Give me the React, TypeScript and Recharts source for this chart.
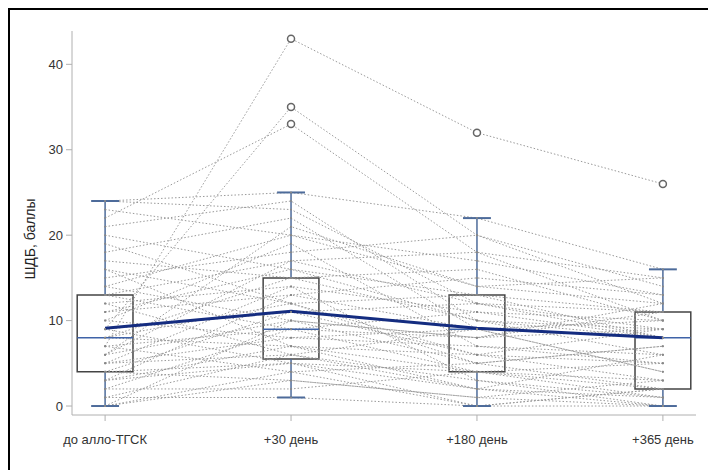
import {
  ComposedChart,
  Line,
  Scatter,
  XAxis,
  YAxis,
  ReferenceArea,
  ReferenceLine,
} from 'recharts';

const timepoints = ['до алло-ТГСК', '+30 день', '+180 день', '+365 день'];

// individual patient trajectories, score at each timepoint
const patients = [
  [7, 43, 32, 26],
  [9, 35, 20, 12],
  [22, 33, 18, 10],
  [24, 25, 22, 16],
  [24, 23, 12, 8],
  [23, 20, 14, 15],
  [21, 24, 10, 6],
  [20, 16, 13, 11],
  [18, 22, 9, 4],
  [17, 15, 16, 10],
  [16, 12, 5, 2],
  [15, 18, 20, 14],
  [14, 10, 8, 9],
  [13, 17, 12, 11],
  [13, 9, 4, 1],
  [12, 14, 11, 8],
  [12, 6, 3, 0],
  [11, 13, 15, 13],
  [10, 19, 7, 5],
  [10, 8, 9, 10],
  [9, 11, 6, 3],
  [9, 5, 4, 2],
  [8, 15, 10, 9],
  [8, 7, 2, 0],
  [8, 12, 13, 8],
  [7, 9, 8, 11],
  [7, 4, 0, 2],
  [6, 10, 5, 7],
  [6, 21, 14, 12],
  [5, 6, 9, 8],
  [5, 14, 3, 1],
  [5, 8, 7, 6],
  [4, 3, 1, 0],
  [4, 11, 12, 9],
  [4, 5, 0, 2],
  [3, 7, 6, 5],
  [3, 13, 9, 4],
  [2, 2, 4, 3],
  [2, 9, 11, 10],
  [1, 1, 0, 0],
  [1, 6, 2, 1],
  [0, 4, 5, 7],
  [0, 10, 8, 12],
  [0, 3, 1, 3],
  [11, 16, 10, 8],
  [14, 20, 17, 13],
  [19, 12, 6, 9],
  [16, 7, 4, 5],
  [6, 17, 18, 15],
  [3, 5, 2, 6],
];

// box plot statistics per timepoint
const whiskerLow = [0, 1, 0, 0];
const q1 = [4, 5.5, 4, 2];
const median = [8, 9, 9, 8];
const q3 = [13, 15, 13, 11];
const whiskerHigh = [24, 25, 22, 16];
const means = [9.1, 11.1, 9.1, 8];

// outliers: [timepoint index, value]
const outliers = [
  [1, 43],
  [1, 35],
  [1, 33],
  [2, 32],
  [3, 26],
];

const BOX_HALF = 0.15;
const CAP_HALF = 0.075;
const X_DOMAIN = [-0.178, 3.178];
const Y_DOMAIN = [-1.05, 43.9];

const meanData = means.map((v, i) => ({ x: i, y: v }));
const outlierData = outliers.map(([i, v]) => ({ x: i, y: v }));

const tickStyle = { fontSize: 13, fill: '#333', fontFamily: '"Liberation Sans", Arial, sans-serif' };

const YLabel = () => (
  <text
    x={20}
    y={229}
    transform="rotate(-90, 20, 229)"
    textAnchor="middle"
    dominantBaseline="central"
    style={{ fontSize: 14, fill: '#222', fontFamily: '"Liberation Sans", Arial, sans-serif' }}
  >
    ШДБ, баллы
  </text>
);

const App = () => {
  return (
    <div style={{ borderLeft: '2px solid #000', borderTop: '2px solid #000', width: 706, height: 460 }}>
      <ComposedChart width={700} height={450} margin={{ top: 21, right: 14, bottom: 8, left: 0 }}>
        <XAxis
          dataKey="x"
          type="number"
          domain={X_DOMAIN}
          ticks={[0, 1, 2, 3]}
          tickFormatter={(i) => timepoints[i]}
          allowDataOverflow
          height={37}
          stroke="#b0b0b0"
          tickSize={6}
          tickMargin={14}
          tick={tickStyle}
        />
        <XAxis xAxisId="top" orientation="top" type="number" domain={X_DOMAIN} tick={false} height={0} stroke="#e0e0e0" />
        <YAxis
          dataKey="y"
          type="number"
          domain={Y_DOMAIN}
          ticks={[0, 10, 20, 30, 40]}
          allowDataOverflow
          width={62}
          stroke="#b0b0b0"
          tickSize={6}
          tickMargin={3}
          tick={tickStyle}
          label={<YLabel />}
        />
        <YAxis yAxisId="right" orientation="right" type="number" domain={Y_DOMAIN} tick={false} width={0} stroke="#aaa" strokeWidth={2} />

        {patients.map((p, k) => (
          <Line
            key={`p-${k}`}
            data={p.map((v, i) => ({ x: i, y: v }))}
            dataKey="y"
            type="linear"
            stroke="#9a9a9a"
            strokeWidth={1}
            strokeDasharray="1.5 2"
            dot={{ r: 1, fill: '#888', stroke: 'none' }}
            isAnimationActive={false}
          />
        ))}

        {timepoints.map((_, i) => (
          <ReferenceLine
            key={`wl-${i}`}
            segment={[{ x: i, y: whiskerLow[i] }, { x: i, y: q1[i] }]}
            stroke="#4d6b9a"
            strokeWidth={1.5}
          />
        ))}
        {timepoints.map((_, i) => (
          <ReferenceLine
            key={`wh-${i}`}
            segment={[{ x: i, y: q3[i] }, { x: i, y: whiskerHigh[i] }]}
            stroke="#4d6b9a"
            strokeWidth={1.5}
          />
        ))}
        {timepoints.map((_, i) => (
          <ReferenceLine
            key={`cl-${i}`}
            segment={[{ x: i - CAP_HALF, y: whiskerLow[i] }, { x: i + CAP_HALF, y: whiskerLow[i] }]}
            stroke="#4d6b9a"
            strokeWidth={2}
          />
        ))}
        {timepoints.map((_, i) => (
          <ReferenceLine
            key={`ch-${i}`}
            segment={[{ x: i - CAP_HALF, y: whiskerHigh[i] }, { x: i + CAP_HALF, y: whiskerHigh[i] }]}
            stroke="#4d6b9a"
            strokeWidth={2}
          />
        ))}
        {timepoints.map((_, i) => (
          <ReferenceArea
            key={`box-${i}`}
            x1={i - BOX_HALF}
            x2={i + BOX_HALF}
            y1={q1[i]}
            y2={q3[i]}
            fill="none"
            fillOpacity={0}
            stroke="#444"
            strokeWidth={1.5}
          />
        ))}
        {timepoints.map((_, i) => (
          <ReferenceLine
            key={`med-${i}`}
            segment={[{ x: i - BOX_HALF, y: median[i] }, { x: i + BOX_HALF, y: median[i] }]}
            stroke="#3f63a8"
            strokeWidth={1.5}
          />
        ))}

        <Line
          data={meanData}
          dataKey="y"
          type="linear"
          stroke="#142c80"
          strokeWidth={3}
          dot={false}
          isAnimationActive={false}
        />
        <Scatter
          data={outlierData}
          dataKey="y"
          fill="#fff"
          stroke="#666"
          strokeWidth={1.5}
          shape={(props: any) => (
            <circle cx={props.cx} cy={props.cy} r={3.5} fill="#fff" stroke="#666" strokeWidth={1.5} />
          )}
          isAnimationActive={false}
        />
      </ComposedChart>
    </div>
  );
};

export default App;
